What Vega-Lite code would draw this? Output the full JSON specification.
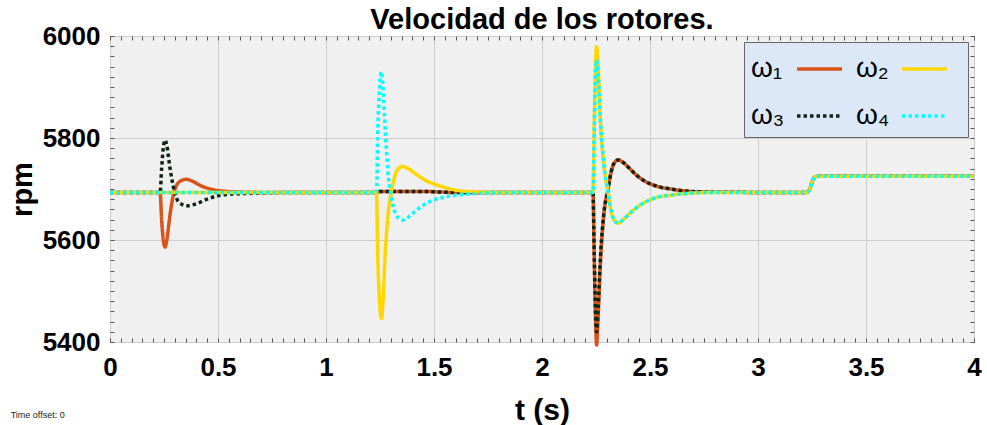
{
  "$schema": "https://vega.github.io/schema/vega-lite/v6.json",
  "width": 864,
  "height": 306,
  "autosize": {"type": "none"},
  "padding": {"left": 110, "top": 36, "right": 13, "bottom": 83},
  "background": "white",
  "title": {"text": "Velocidad de los rotores.", "fontSize": 29, "font": "Liberation Sans", "fontWeight": "bold", "color": "black", "anchor": "middle", "offset": 8, "dy": 20},
  "config": {"view": {"fill": "#F0F0F0", "stroke": "#666666", "strokeWidth": 1}},
  "datasets": {
    "d": [
      {"t": 0, "rpm": 5693, "serie": "ω₁"},
      {"t": 0.232, "rpm": 5693, "serie": "ω₁"},
      {"t": 0.239, "rpm": 5640, "serie": "ω₁"},
      {"t": 0.248, "rpm": 5596, "serie": "ω₁"},
      {"t": 0.255, "rpm": 5586, "serie": "ω₁"},
      {"t": 0.263, "rpm": 5600, "serie": "ω₁"},
      {"t": 0.278, "rpm": 5650, "serie": "ω₁"},
      {"t": 0.293, "rpm": 5688, "serie": "ω₁"},
      {"t": 0.308, "rpm": 5707, "serie": "ω₁"},
      {"t": 0.328, "rpm": 5716, "serie": "ω₁"},
      {"t": 0.353, "rpm": 5719, "serie": "ω₁"},
      {"t": 0.383, "rpm": 5715, "serie": "ω₁"},
      {"t": 0.423, "rpm": 5706, "serie": "ω₁"},
      {"t": 0.473, "rpm": 5699, "serie": "ω₁"},
      {"t": 0.533, "rpm": 5695.5, "serie": "ω₁"},
      {"t": 0.603, "rpm": 5694, "serie": "ω₁"},
      {"t": 0.8, "rpm": 5693, "serie": "ω₁"},
      {"t": 1.235, "rpm": 5693, "serie": "ω₁"},
      {"t": 1.25, "rpm": 5695, "serie": "ω₁"},
      {"t": 1.46, "rpm": 5695, "serie": "ω₁"},
      {"t": 1.61, "rpm": 5693, "serie": "ω₁"},
      {"t": 2.236, "rpm": 5693, "serie": "ω₁"},
      {"t": 2.242, "rpm": 5560, "serie": "ω₁"},
      {"t": 2.248, "rpm": 5440, "serie": "ω₁"},
      {"t": 2.253, "rpm": 5394, "serie": "ω₁"},
      {"t": 2.259, "rpm": 5440, "serie": "ω₁"},
      {"t": 2.271, "rpm": 5560, "serie": "ω₁"},
      {"t": 2.286, "rpm": 5650, "serie": "ω₁"},
      {"t": 2.306, "rpm": 5700, "serie": "ω₁"},
      {"t": 2.321, "rpm": 5735, "serie": "ω₁"},
      {"t": 2.336, "rpm": 5752, "serie": "ω₁"},
      {"t": 2.353, "rpm": 5757, "serie": "ω₁"},
      {"t": 2.376, "rpm": 5752, "serie": "ω₁"},
      {"t": 2.406, "rpm": 5740, "serie": "ω₁"},
      {"t": 2.446, "rpm": 5724, "serie": "ω₁"},
      {"t": 2.486, "rpm": 5713, "serie": "ω₁"},
      {"t": 2.536, "rpm": 5705, "serie": "ω₁"},
      {"t": 2.596, "rpm": 5700, "serie": "ω₁"},
      {"t": 2.666, "rpm": 5696, "serie": "ω₁"},
      {"t": 2.766, "rpm": 5694, "serie": "ω₁"},
      {"t": 3.225, "rpm": 5693, "serie": "ω₁"},
      {"t": 3.24, "rpm": 5700, "serie": "ω₁"},
      {"t": 3.253, "rpm": 5717, "serie": "ω₁"},
      {"t": 3.265, "rpm": 5724, "serie": "ω₁"},
      {"t": 3.28, "rpm": 5725, "serie": "ω₁"},
      {"t": 4, "rpm": 5725, "serie": "ω₁"},

      {"t": 0, "rpm": 5693, "serie": "ω₂"},
      {"t": 1.234, "rpm": 5693, "serie": "ω₂"},
      {"t": 1.239, "rpm": 5580, "serie": "ω₂"},
      {"t": 1.248, "rpm": 5480, "serie": "ω₂"},
      {"t": 1.256, "rpm": 5446, "serie": "ω₂"},
      {"t": 1.264, "rpm": 5480, "serie": "ω₂"},
      {"t": 1.275, "rpm": 5580, "serie": "ω₂"},
      {"t": 1.29, "rpm": 5660, "serie": "ω₂"},
      {"t": 1.305, "rpm": 5700, "serie": "ω₂"},
      {"t": 1.32, "rpm": 5727, "serie": "ω₂"},
      {"t": 1.335, "rpm": 5740, "serie": "ω₂"},
      {"t": 1.356, "rpm": 5744, "serie": "ω₂"},
      {"t": 1.38, "rpm": 5740, "serie": "ω₂"},
      {"t": 1.42, "rpm": 5728, "serie": "ω₂"},
      {"t": 1.46, "rpm": 5717, "serie": "ω₂"},
      {"t": 1.5, "rpm": 5710, "serie": "ω₂"},
      {"t": 1.55, "rpm": 5703, "serie": "ω₂"},
      {"t": 1.61, "rpm": 5697, "serie": "ω₂"},
      {"t": 1.71, "rpm": 5694, "serie": "ω₂"},
      {"t": 1.86, "rpm": 5693, "serie": "ω₂"},
      {"t": 2.236, "rpm": 5693, "serie": "ω₂"},
      {"t": 2.242, "rpm": 5830, "serie": "ω₂"},
      {"t": 2.248, "rpm": 5950, "serie": "ω₂"},
      {"t": 2.253, "rpm": 5979, "serie": "ω₂"},
      {"t": 2.259, "rpm": 5950, "serie": "ω₂"},
      {"t": 2.271, "rpm": 5830, "serie": "ω₂"},
      {"t": 2.286, "rpm": 5750, "serie": "ω₂"},
      {"t": 2.306, "rpm": 5693, "serie": "ω₂"},
      {"t": 2.321, "rpm": 5655, "serie": "ω₂"},
      {"t": 2.336, "rpm": 5638, "serie": "ω₂"},
      {"t": 2.353, "rpm": 5633, "serie": "ω₂"},
      {"t": 2.376, "rpm": 5640, "serie": "ω₂"},
      {"t": 2.406, "rpm": 5652, "serie": "ω₂"},
      {"t": 2.446, "rpm": 5666, "serie": "ω₂"},
      {"t": 2.486, "rpm": 5676, "serie": "ω₂"},
      {"t": 2.536, "rpm": 5684, "serie": "ω₂"},
      {"t": 2.596, "rpm": 5688, "serie": "ω₂"},
      {"t": 2.666, "rpm": 5691, "serie": "ω₂"},
      {"t": 2.766, "rpm": 5693, "serie": "ω₂"},
      {"t": 3.225, "rpm": 5693, "serie": "ω₂"},
      {"t": 3.24, "rpm": 5700, "serie": "ω₂"},
      {"t": 3.253, "rpm": 5717, "serie": "ω₂"},
      {"t": 3.265, "rpm": 5724, "serie": "ω₂"},
      {"t": 3.28, "rpm": 5725, "serie": "ω₂"},
      {"t": 4, "rpm": 5725, "serie": "ω₂"},

      {"t": 0, "rpm": 5693, "serie": "ω₃"},
      {"t": 0.232, "rpm": 5693, "serie": "ω₃"},
      {"t": 0.239, "rpm": 5740, "serie": "ω₃"},
      {"t": 0.248, "rpm": 5785, "serie": "ω₃"},
      {"t": 0.255, "rpm": 5796, "serie": "ω₃"},
      {"t": 0.263, "rpm": 5785, "serie": "ω₃"},
      {"t": 0.278, "rpm": 5740, "serie": "ω₃"},
      {"t": 0.293, "rpm": 5705, "serie": "ω₃"},
      {"t": 0.308, "rpm": 5682, "serie": "ω₃"},
      {"t": 0.328, "rpm": 5671, "serie": "ω₃"},
      {"t": 0.358, "rpm": 5667, "serie": "ω₃"},
      {"t": 0.393, "rpm": 5670, "serie": "ω₃"},
      {"t": 0.443, "rpm": 5679, "serie": "ω₃"},
      {"t": 0.493, "rpm": 5686, "serie": "ω₃"},
      {"t": 0.563, "rpm": 5690, "serie": "ω₃"},
      {"t": 0.653, "rpm": 5691.5, "serie": "ω₃"},
      {"t": 0.8, "rpm": 5693, "serie": "ω₃"},
      {"t": 1.235, "rpm": 5693, "serie": "ω₃"},
      {"t": 1.25, "rpm": 5695, "serie": "ω₃"},
      {"t": 1.46, "rpm": 5695, "serie": "ω₃"},
      {"t": 1.61, "rpm": 5693, "serie": "ω₃"},
      {"t": 2.236, "rpm": 5693, "serie": "ω₃"},
      {"t": 2.242, "rpm": 5570, "serie": "ω₃"},
      {"t": 2.248, "rpm": 5460, "serie": "ω₃"},
      {"t": 2.253, "rpm": 5420, "serie": "ω₃"},
      {"t": 2.259, "rpm": 5460, "serie": "ω₃"},
      {"t": 2.271, "rpm": 5570, "serie": "ω₃"},
      {"t": 2.286, "rpm": 5650, "serie": "ω₃"},
      {"t": 2.306, "rpm": 5700, "serie": "ω₃"},
      {"t": 2.321, "rpm": 5735, "serie": "ω₃"},
      {"t": 2.336, "rpm": 5752, "serie": "ω₃"},
      {"t": 2.353, "rpm": 5757, "serie": "ω₃"},
      {"t": 2.376, "rpm": 5752, "serie": "ω₃"},
      {"t": 2.406, "rpm": 5740, "serie": "ω₃"},
      {"t": 2.446, "rpm": 5724, "serie": "ω₃"},
      {"t": 2.486, "rpm": 5713, "serie": "ω₃"},
      {"t": 2.536, "rpm": 5705, "serie": "ω₃"},
      {"t": 2.596, "rpm": 5700, "serie": "ω₃"},
      {"t": 2.666, "rpm": 5696, "serie": "ω₃"},
      {"t": 2.766, "rpm": 5694, "serie": "ω₃"},
      {"t": 3.225, "rpm": 5693, "serie": "ω₃"},
      {"t": 3.24, "rpm": 5700, "serie": "ω₃"},
      {"t": 3.253, "rpm": 5717, "serie": "ω₃"},
      {"t": 3.265, "rpm": 5724, "serie": "ω₃"},
      {"t": 3.28, "rpm": 5725, "serie": "ω₃"},
      {"t": 4, "rpm": 5725, "serie": "ω₃"},

      {"t": 0, "rpm": 5693, "serie": "ω₄"},
      {"t": 1.234, "rpm": 5693, "serie": "ω₄"},
      {"t": 1.239, "rpm": 5800, "serie": "ω₄"},
      {"t": 1.248, "rpm": 5900, "serie": "ω₄"},
      {"t": 1.256, "rpm": 5930, "serie": "ω₄"},
      {"t": 1.264, "rpm": 5900, "serie": "ω₄"},
      {"t": 1.275, "rpm": 5810, "serie": "ω₄"},
      {"t": 1.29, "rpm": 5720, "serie": "ω₄"},
      {"t": 1.3, "rpm": 5690, "serie": "ω₄"},
      {"t": 1.315, "rpm": 5660, "serie": "ω₄"},
      {"t": 1.335, "rpm": 5643, "serie": "ω₄"},
      {"t": 1.359, "rpm": 5639, "serie": "ω₄"},
      {"t": 1.39, "rpm": 5648, "serie": "ω₄"},
      {"t": 1.43, "rpm": 5662, "serie": "ω₄"},
      {"t": 1.47, "rpm": 5673, "serie": "ω₄"},
      {"t": 1.51, "rpm": 5680, "serie": "ω₄"},
      {"t": 1.57, "rpm": 5686, "serie": "ω₄"},
      {"t": 1.66, "rpm": 5690, "serie": "ω₄"},
      {"t": 1.81, "rpm": 5693, "serie": "ω₄"},
      {"t": 2.236, "rpm": 5693, "serie": "ω₄"},
      {"t": 2.242, "rpm": 5820, "serie": "ω₄"},
      {"t": 2.248, "rpm": 5930, "serie": "ω₄"},
      {"t": 2.253, "rpm": 5953, "serie": "ω₄"},
      {"t": 2.259, "rpm": 5930, "serie": "ω₄"},
      {"t": 2.271, "rpm": 5830, "serie": "ω₄"},
      {"t": 2.286, "rpm": 5750, "serie": "ω₄"},
      {"t": 2.306, "rpm": 5693, "serie": "ω₄"},
      {"t": 2.321, "rpm": 5655, "serie": "ω₄"},
      {"t": 2.336, "rpm": 5638, "serie": "ω₄"},
      {"t": 2.353, "rpm": 5633, "serie": "ω₄"},
      {"t": 2.376, "rpm": 5640, "serie": "ω₄"},
      {"t": 2.406, "rpm": 5652, "serie": "ω₄"},
      {"t": 2.446, "rpm": 5666, "serie": "ω₄"},
      {"t": 2.486, "rpm": 5676, "serie": "ω₄"},
      {"t": 2.536, "rpm": 5684, "serie": "ω₄"},
      {"t": 2.596, "rpm": 5688, "serie": "ω₄"},
      {"t": 2.666, "rpm": 5691, "serie": "ω₄"},
      {"t": 2.766, "rpm": 5693, "serie": "ω₄"},
      {"t": 3.225, "rpm": 5693, "serie": "ω₄"},
      {"t": 3.24, "rpm": 5700, "serie": "ω₄"},
      {"t": 3.253, "rpm": 5717, "serie": "ω₄"},
      {"t": 3.265, "rpm": 5724, "serie": "ω₄"},
      {"t": 3.28, "rpm": 5725, "serie": "ω₄"},
      {"t": 4, "rpm": 5725, "serie": "ω₄"}
    ],
    "note": [{"label": "Time offset:  0"}]
  },
  "layer": [
    {
      "data": {"name": "d"},
      "encoding": {
        "x": {
          "field": "t", "type": "quantitative",
          "scale": {"domain": [0, 4], "nice": false, "zero": false},
          "axis": {
            "orient": "bottom",
            "values": [0,0.05,0.1,0.15,0.2,0.25,0.3,0.35,0.4,0.45,0.5,0.55,0.6,0.65,0.7,0.75,0.8,0.85,0.9,0.95,1,1.05,1.1,1.15,1.2,1.25,1.3,1.35,1.4,1.45,1.5,1.55,1.6,1.65,1.7,1.75,1.8,1.85,1.9,1.95,2,2.05,2.1,2.15,2.2,2.25,2.3,2.35,2.4,2.45,2.5,2.55,2.6,2.65,2.7,2.75,2.8,2.85,2.9,2.95,3,3.05,3.1,3.15,3.2,3.25,3.3,3.35,3.4,3.45,3.5,3.55,3.6,3.65,3.7,3.75,3.8,3.85,3.9,3.95,4],
            "labelExpr": "abs(datum.value*2-round(datum.value*2))<0.001 ? format(datum.value, '~g') : ''",
            "labelOverlap": false, "labelFlush": false,
            "labelFont": "Liberation Sans", "labelFontSize": 26, "labelFontWeight": "bold", "labelColor": "black",
            "labelPadding": 16, "labelBaseline": "top",
            "tickSize": -4, "tickColor": "#555555", "tickWidth": 1,
            "domain": false,
            "grid": true, "gridColor": "#CDCDCD", "gridWidth": 1,
            "gridOpacity": {"condition": {"test": "abs(datum.value*2-round(datum.value*2))<0.001", "value": 1}, "value": 0},
            "title": "t (s)", "titleFont": "Liberation Sans", "titleFontSize": 30, "titleFontWeight": "bold", "titleColor": "black", "titlePadding": 15
          }
        },
        "y": {
          "field": "rpm", "type": "quantitative",
          "scale": {"domain": [5400, 6000], "nice": false, "zero": false},
          "axis": {
            "orient": "left",
            "values": [5400,5420,5440,5460,5480,5500,5520,5540,5560,5580,5600,5620,5640,5660,5680,5700,5720,5740,5760,5780,5800,5820,5840,5860,5880,5900,5920,5940,5960,5980,6000],
            "labelExpr": "datum.value % 200 === 0 ? format(datum.value, 'd') : ''",
            "labelOverlap": false, "labelFlush": false,
            "labelFont": "Liberation Sans", "labelFontSize": 26, "labelFontWeight": "bold", "labelColor": "black",
            "labelPadding": 14,
            "tickSize": -4, "tickColor": "#555555", "tickWidth": 1,
            "domain": false,
            "grid": true, "gridColor": "#CDCDCD", "gridWidth": 1,
            "gridOpacity": {"condition": {"test": "datum.value % 200 === 0", "value": 1}, "value": 0},
            "title": "rpm", "titleFont": "Liberation Sans", "titleFontSize": 29, "titleFontWeight": "bold", "titleColor": "black", "titlePadding": 5
          }
        },
        "color": {
          "field": "serie", "type": "nominal",
          "scale": {"domain": ["ω₁", "ω₂", "ω₃", "ω₄"], "range": ["#D95319", "#FFD700", "#0B2618", "#00FFFF"]},
          "legend": {
            "title": null, "orient": "top-right", "offset": 6, "columns": 2, "direction": "horizontal",
            "values": ["ω₁", "ω₂", "ω₃", "ω₄"],
            "fillColor": "#DCE8F8", "strokeColor": "#666666", "padding": 7,
            "labelFont": "Liberation Sans", "labelFontSize": 28, "labelColor": "black",
            "labelOffset": -40, "symbolOffset": 0,
            "symbolType": "M1.425,0H3.89M4.27,0", "symbolStrokeWidth": 3.5, "symbolSize": 1332,
            "columnPadding": 0, "rowPadding": 13,
            "encode": {"symbols": {"update": {"stroke": {"signal": "datum.value === 'ω₁' ? '#E07B00' : datum.value === 'ω₂' ? '#FFFF00' : datum.value === 'ω₃' ? '#000000' : '#00FFFF'"}}}}
          }
        },
        "strokeDash": {
          "field": "serie", "type": "nominal",
          "scale": {"domain": ["ω₁", "ω₂", "ω₃", "ω₄"], "range": [[1, 0], [1, 0], [3.5, 3], [3.5, 3]]},
          "legend": {"title": null}
        }
      },
      "layer": [
        {"transform": [{"filter": "datum.serie === 'ω₁'"}], "mark": {"type": "line", "strokeWidth": 3.5, "interpolate": "monotone"}},
        {"transform": [{"filter": "datum.serie === 'ω₃'"}], "mark": {"type": "line", "strokeWidth": 3.5, "interpolate": "monotone"}},
        {"transform": [{"filter": "datum.serie === 'ω₂'"}], "mark": {"type": "line", "strokeWidth": 3.5, "interpolate": "monotone"}},
        {"transform": [{"filter": "datum.serie === 'ω₄'"}], "mark": {"type": "line", "strokeWidth": 3.5, "interpolate": "monotone"}}
      ]
    },
    {
      "data": {"name": "note"},
      "mark": {"type": "text", "align": "left", "baseline": "middle", "font": "Liberation Sans", "fontSize": 9, "color": "#222222", "clip": false},
      "encoding": {
        "text": {"field": "label"},
        "x": {
          "datum": -0.46, "type": "quantitative",
          "axis": {
            "orient": "top",
            "values": [0,0.05,0.1,0.15,0.2,0.25,0.3,0.35,0.4,0.45,0.5,0.55,0.6,0.65,0.7,0.75,0.8,0.85,0.9,0.95,1,1.05,1.1,1.15,1.2,1.25,1.3,1.35,1.4,1.45,1.5,1.55,1.6,1.65,1.7,1.75,1.8,1.85,1.9,1.95,2,2.05,2.1,2.15,2.2,2.25,2.3,2.35,2.4,2.45,2.5,2.55,2.6,2.65,2.7,2.75,2.8,2.85,2.9,2.95,3,3.05,3.1,3.15,3.2,3.25,3.3,3.35,3.4,3.45,3.5,3.55,3.6,3.65,3.7,3.75,3.8,3.85,3.9,3.95,4],
            "labels": false, "title": null, "grid": false, "domain": false,
            "tickSize": -4, "tickColor": "#555555", "tickWidth": 1
          }
        },
        "y": {
          "datum": 5257, "type": "quantitative",
          "axis": {
            "orient": "right",
            "values": [5400,5420,5440,5460,5480,5500,5520,5540,5560,5580,5600,5620,5640,5660,5680,5700,5720,5740,5760,5780,5800,5820,5840,5860,5880,5900,5920,5940,5960,5980,6000],
            "labels": false, "title": null, "grid": false, "domain": false,
            "tickSize": -4, "tickColor": "#555555", "tickWidth": 1
          }
        }
      }
    }
  ],
  "resolve": {"axis": {"x": "independent", "y": "independent"}}
}
